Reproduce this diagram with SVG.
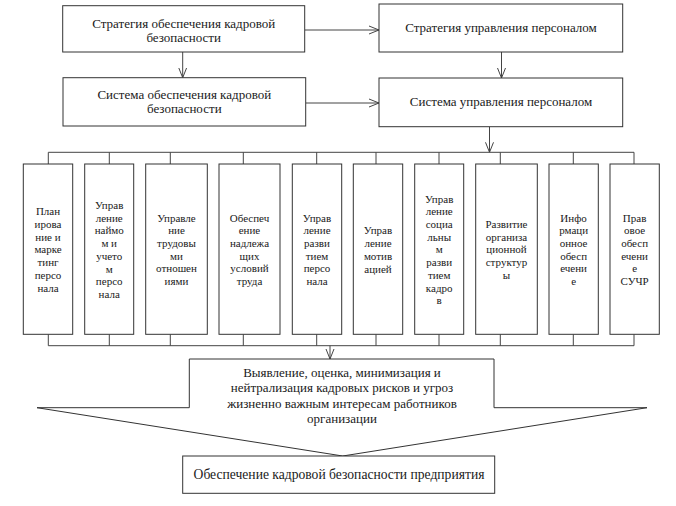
<svg xmlns="http://www.w3.org/2000/svg" width="676" height="506" viewBox="0 0 676 506">
<style>
.box{fill:#fff;stroke:#333;stroke-width:1}
.ln{fill:none;stroke:#444;stroke-width:1}
.t{font-family:"Liberation Serif","Times New Roman","DejaVu Serif",serif;fill:#1a1a1a;text-anchor:middle}
.big{font-size:13px}
.sm{font-size:11px}
</style>
<defs>
<marker id="ar" viewBox="0 0 10 10" refX="10" refY="5" markerWidth="10" markerHeight="10" markerUnits="userSpaceOnUse" orient="auto">
<path d="M0,1 L10,5 L0,9" fill="none" stroke="#444" stroke-width="1"/>
</marker>
</defs>
<rect width="676" height="506" fill="#fff"/>
<g id="connectors">
<line class="ln" x1="305" y1="30" x2="379" y2="30" marker-end="url(#ar)"/>
<line class="ln" x1="306" y1="103" x2="379" y2="103" marker-end="url(#ar)"/>
<line class="ln" x1="182.7" y1="52" x2="182.7" y2="77.7" marker-end="url(#ar)"/>
<line class="ln" x1="501.5" y1="52" x2="501.5" y2="78" marker-end="url(#ar)"/>
<line class="ln" x1="489.5" y1="126.7" x2="489.5" y2="152.3" marker-end="url(#ar)"/>
<polyline class="ln" points="48.3,164 48.3,152.3 634,152.3 634,164"/>
<line class="ln" x1="109.3" y1="152.3" x2="109.3" y2="164"/>
<line class="ln" x1="170.3" y1="152.3" x2="170.3" y2="164"/>
<line class="ln" x1="243.3" y1="152.3" x2="243.3" y2="164"/>
<line class="ln" x1="316.7" y1="152.3" x2="316.7" y2="164"/>
<line class="ln" x1="376" y1="152.3" x2="376" y2="164"/>
<line class="ln" x1="439" y1="152.3" x2="439" y2="164"/>
<line class="ln" x1="500.3" y1="152.3" x2="500.3" y2="164"/>
<line class="ln" x1="573.3" y1="152.3" x2="573.3" y2="164"/>
<polyline class="ln" points="48.3,334.3 48.3,345.7 634,345.7 634,334.3"/>
<line class="ln" x1="109.3" y1="334.3" x2="109.3" y2="345.7"/>
<line class="ln" x1="170.3" y1="334.3" x2="170.3" y2="345.7"/>
<line class="ln" x1="243.3" y1="334.3" x2="243.3" y2="345.7"/>
<line class="ln" x1="316.7" y1="334.3" x2="316.7" y2="345.7"/>
<line class="ln" x1="376" y1="334.3" x2="376" y2="345.7"/>
<line class="ln" x1="439" y1="334.3" x2="439" y2="345.7"/>
<line class="ln" x1="500.3" y1="334.3" x2="500.3" y2="345.7"/>
<line class="ln" x1="573.3" y1="334.3" x2="573.3" y2="345.7"/>
<line class="ln" x1="330" y1="345.7" x2="330" y2="359" marker-end="url(#ar)"/>
</g>
<g id="n1"><rect class="box" x="62.7" y="5.7" width="242" height="46.3"/>
<text class="t big" x="183.7" y="27.8">Стратегия обеспечения кадровой<tspan x="183.7" dy="14.5">безопасности</tspan></text></g>
<g id="n2"><rect class="box" x="379" y="4" width="243.7" height="48"/>
<text class="t big" x="501" y="31.5">Стратегия управления персоналом</text></g>
<g id="n3"><rect class="box" x="63" y="77.7" width="242.7" height="48.3"/>
<text class="t big" x="184.3" y="98.8">Система обеспечения кадровой<tspan x="184.3" dy="14.5">безопасности</tspan></text></g>
<g id="n4"><rect class="box" x="379" y="78" width="243.7" height="48.7"/>
<text class="t big" x="501" y="105.5">Система управления персоналом</text></g>
<g id="bA"><rect class="box" x="23.3" y="164" width="49.4" height="170.3"/>
<text class="t sm" x="48" y="215.3">План<tspan x="48" dy="12.7">ирова</tspan><tspan x="48" dy="12.7">ние и</tspan><tspan x="48" dy="12.7">марке</tspan><tspan x="48" dy="12.7">тинг</tspan><tspan x="48" dy="12.7">персо</tspan><tspan x="48" dy="12.7">нала</tspan></text></g>
<g id="bB"><rect class="box" x="84.7" y="164" width="49" height="170.3"/>
<text class="t sm" x="109.2" y="209">Управ<tspan x="109.2" dy="12.7">ление</tspan><tspan x="109.2" dy="12.7">наймо</tspan><tspan x="109.2" dy="12.7">м и</tspan><tspan x="109.2" dy="12.7">учето</tspan><tspan x="109.2" dy="12.7">м</tspan><tspan x="109.2" dy="12.7">персо</tspan><tspan x="109.2" dy="12.7">нала</tspan></text></g>
<g id="bC"><rect class="box" x="145.7" y="164" width="61.6" height="170.3"/>
<text class="t sm" x="176.5" y="221.6">Управле<tspan x="176.5" dy="12.7">ние</tspan><tspan x="176.5" dy="12.7">трудовы</tspan><tspan x="176.5" dy="12.7">ми</tspan><tspan x="176.5" dy="12.7">отношен</tspan><tspan x="176.5" dy="12.7">иями</tspan></text></g>
<g id="bD"><rect class="box" x="219" y="164" width="61" height="170.3"/>
<text class="t sm" x="249.5" y="221.6">Обеспеч<tspan x="249.5" dy="12.7">ение</tspan><tspan x="249.5" dy="12.7">надлежа</tspan><tspan x="249.5" dy="12.7">щих</tspan><tspan x="249.5" dy="12.7">условий</tspan><tspan x="249.5" dy="12.7">труда</tspan></text></g>
<g id="bE"><rect class="box" x="292.3" y="164" width="49.4" height="170.3"/>
<text class="t sm" x="317" y="221.6">Управ<tspan x="317" dy="12.7">ление</tspan><tspan x="317" dy="12.7">разви</tspan><tspan x="317" dy="12.7">тием</tspan><tspan x="317" dy="12.7">персо</tspan><tspan x="317" dy="12.7">нала</tspan></text></g>
<g id="bF"><rect class="box" x="353.3" y="164" width="49.4" height="170.3"/>
<text class="t sm" x="378" y="234.4">Управ<tspan x="378" dy="12.7">ление</tspan><tspan x="378" dy="12.7">мотив</tspan><tspan x="378" dy="12.7">ацией</tspan></text></g>
<g id="bG"><rect class="box" x="414.7" y="164" width="49" height="170.3"/>
<text class="t sm" x="439.2" y="202.6">Управ<tspan x="439.2" dy="12.7">ление</tspan><tspan x="439.2" dy="12.7">социа</tspan><tspan x="439.2" dy="12.7">льны</tspan><tspan x="439.2" dy="12.7">м</tspan><tspan x="439.2" dy="12.7">разви</tspan><tspan x="439.2" dy="12.7">тием</tspan><tspan x="439.2" dy="12.7">кадро</tspan><tspan x="439.2" dy="12.7">в</tspan></text></g>
<g id="bH"><rect class="box" x="475.7" y="164" width="61.6" height="170.3"/>
<text class="t sm" x="506.5" y="228">Развитие<tspan x="506.5" dy="12.7">организа</tspan><tspan x="506.5" dy="12.7">ционной</tspan><tspan x="506.5" dy="12.7">структур</tspan><tspan x="506.5" dy="12.7">ы</tspan></text></g>
<g id="bI"><rect class="box" x="549" y="164" width="49.3" height="170.3"/>
<text class="t sm" x="573.6" y="221.6">Инфо<tspan x="573.6" dy="12.7">рмаци</tspan><tspan x="573.6" dy="12.7">онное</tspan><tspan x="573.6" dy="12.7">обесп</tspan><tspan x="573.6" dy="12.7">ечени</tspan><tspan x="573.6" dy="12.7">е</tspan></text></g>
<g id="bJ"><rect class="box" x="610" y="164" width="49.3" height="170.3"/>
<text class="t sm" x="634.6" y="221.6">Прав<tspan x="634.6" dy="12.7">овое</tspan><tspan x="634.6" dy="12.7">обесп</tspan><tspan x="634.6" dy="12.7">ечени</tspan><tspan x="634.6" dy="12.7">е</tspan><tspan x="634.6" dy="12.7">СУЧР</tspan></text></g>
<g id="risk"><path class="box" d="M189.3,359 L494,359 L494,407.7 L647,407.7 L342.7,456 L37,407.7 L189.3,407.7 Z"/>
<text class="t big" x="342" y="376.8">Выявление, оценка, минимизация и<tspan x="342" dy="15.5">нейтрализация кадровых рисков и угроз</tspan><tspan x="342" dy="15.5">жизненно важным интересам работников</tspan><tspan x="342" dy="15.5">организации</tspan></text></g>
<g id="result"><rect class="box" x="182.7" y="456" width="312" height="37.3"/>
<text class="t" font-size="13.6" x="339" y="479">Обеспечение кадровой безопасности предприятия</text></g>
</svg>
